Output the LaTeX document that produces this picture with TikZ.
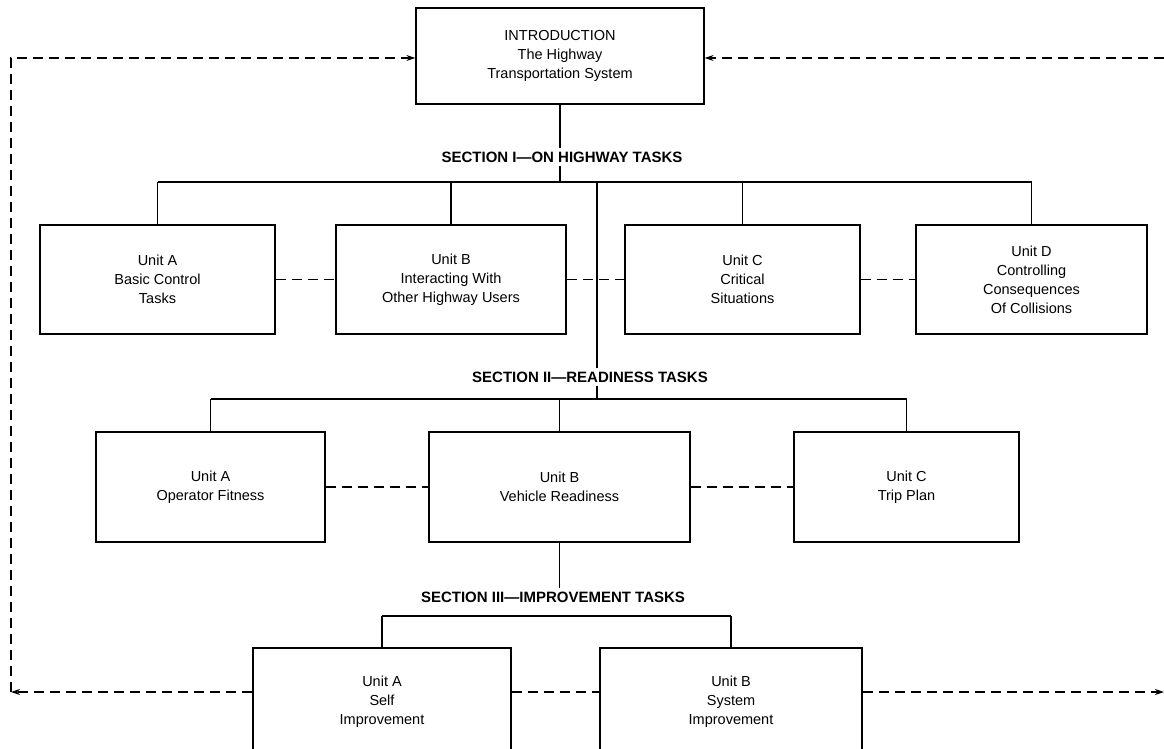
\documentclass[tikz,border=0pt]{standalone}
\usepackage{fontspec}
\setmainfont{Liberation Sans}
\usetikzlibrary{arrows.meta}
\begin{document}
\begin{tikzpicture}[x=1pt,y=-1pt,
  box/.style={draw, line width=1.2pt, align=center, font=\fontsize{14.5}{19}\selectfont, inner sep=0pt},
  sec/.style={font=\fontsize{15}{17}\selectfont\bfseries, inner sep=3pt},
  ln/.style={line width=1.2pt},
  dsh/.style={line width=1.2pt, dash pattern=on 10pt off 6pt},
  arr/.style={-{Stealth[length=9pt,width=6pt]}}]
\useasboundingbox (0,0) rectangle (1164,749);

% boxes
\node[box, minimum width=288pt, minimum height=96pt] (intro) at (560,56)
  {INTRODUCTION\\The Highway\\Transportation System};

\node[box, minimum width=235pt, minimum height=109pt] (a1) at (157.5,279.5)
  {Unit A\\Basic Control\\Tasks};
\node[box, minimum width=230pt, minimum height=109pt] (b1) at (451,279.5)
  {Unit B\\Interacting With\\Other Highway Users};
\node[box, minimum width=235pt, minimum height=109pt] (c1) at (742.5,279.5)
  {Unit C\\Critical\\Situations};
\node[box, minimum width=231pt, minimum height=109pt] (d1) at (1031.5,279.5)
  {Unit D\\Controlling\\Consequences\\Of Collisions};

\node[box, minimum width=229pt, minimum height=110pt] (a2) at (210.5,487)
  {Unit A\\Operator Fitness};
\node[box, minimum width=261pt, minimum height=110pt] (b2) at (559.5,487)
  {Unit B\\Vehicle Readiness};
\node[box, minimum width=225pt, minimum height=110pt] (c2) at (906.5,487)
  {Unit C\\Trip Plan};

\node[box, minimum width=258pt, minimum height=108pt] (a3) at (382,702)
  {Unit A\\Self\\Improvement};
\node[box, minimum width=262pt, minimum height=108pt] (b3) at (731,702)
  {Unit B\\System\\Improvement};

% section labels
\node[sec] (s1) at (562,157) {SECTION I—ON HIGHWAY TASKS};
\node[sec] (s2) at (590,377) {SECTION II—READINESS TASKS};
\node[sec] (s3) at (553,597) {SECTION III—IMPROVEMENT TASKS};

% bar coordinates
\coordinate (bar1) at (557,182);
\coordinate (trunk) at (597,182);
\coordinate (bar2) at (597,399);
\coordinate (bar3) at (382,616);

% section I tree
\draw[ln] (intro.south) -- (intro.south |- s1.north);
\draw[ln] (intro.south |- s1.south) -- (intro.south |- bar1);
\draw[ln] (a1.north |- bar1) -- (d1.north |- bar1);
\foreach \n in {a1,b1,c1,d1} \draw[ln] (\n.north |- bar1) -- (\n.north);

% section II tree
\draw[ln] (trunk) -- (trunk |- s2.north);
\draw[ln] (trunk |- s2.south) -- (bar2);
\draw[ln] (a2.north |- bar2) -- (c2.north |- bar2);
\foreach \n in {a2,b2,c2} \draw[ln] (\n.north |- bar2) -- (\n.north);

% section III tree
\draw[ln] (b2.south) -- (b2.south |- s3.north);
\draw[ln] (a3.north |- bar3) -- (b3.north |- bar3);
\foreach \n in {a3,b3} \draw[ln] (\n.north |- bar3) -- (\n.north);

% feedback loop coordinates
\coordinate (tl) at (11,58);
\coordinate (bl) at (11,692);
\coordinate (tr) at (1164,58);
\coordinate (br) at (1164,692);

% dashed links within rows
\draw[dsh] (a1.east) -- (b1.west);
\draw[dsh] (b1.east) -- (c1.west);
\draw[dsh] (c1.east) -- (d1.west);
\draw[dsh] (a2.east) -- (b2.west);
\draw[dsh] (b2.east) -- (c2.west);
\draw[dsh] (a3.east |- bl) -- (b3.west |- bl);

% feedback loop
\draw[dsh, arr] (a3.west |- bl) -- (bl);
\draw[dsh, arr] (bl) -- (tl) -- (intro.west |- tl);
\draw[dsh, arr] (b3.east |- br) -- (br);
\draw[dsh, arr] (tr) -- (intro.east |- tr);
\end{tikzpicture}
\end{document}
